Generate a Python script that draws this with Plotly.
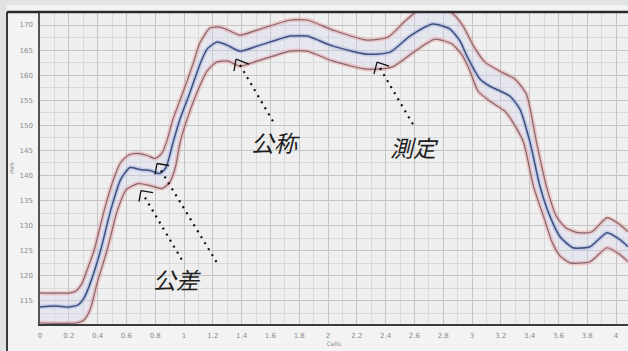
import plotly.graph_objects as go

# Nominal profile (blue centre line)
nom_x = [0.000, 0.104, 0.201, 0.264, 0.306, 0.350, 0.422, 0.492, 0.560, 0.625,
         0.694, 0.764, 0.833, 0.875, 0.924, 0.972, 1.042, 1.111, 1.160, 1.229,
         1.299, 1.389, 1.507, 1.618, 1.736, 1.854, 2.035, 2.271, 2.431, 2.569,
         2.729, 2.847, 2.917, 2.965, 3.056, 3.125, 3.264, 3.333, 3.403, 3.472,
         3.542, 3.611, 3.701, 3.819, 3.938, 4.028, 4.083]
nom_y = [113.8, 114.0, 113.8, 114.2, 115.6, 118.6, 125.2, 133.2, 139.2, 141.6,
         141.2, 141.0, 140.4, 141.6, 146.6, 151.2, 156.6, 162.2, 165.2, 166.6,
         166.0, 164.8, 165.8, 166.8, 167.8, 167.8, 165.8, 164.2, 164.6, 167.8,
         170.2, 169.2, 166.8, 163.8, 159.2, 157.8, 155.8, 153.2, 146.6, 137.8,
         131.8, 127.8, 125.6, 125.8, 128.6, 127.2, 125.8]

# Upper tolerance limit
up_x = [0.000, 0.208, 0.250, 0.290, 0.325, 0.377, 0.447, 0.515, 0.560, 0.615,
        0.680, 0.745, 0.799, 0.845, 0.880, 0.923, 0.993, 1.062, 1.110, 1.180,
        1.250, 1.306, 1.389, 1.507, 1.618, 1.736, 1.854, 2.035, 2.271, 2.417,
        2.535, 2.639, 2.743, 2.861, 2.938, 3.007, 3.090, 3.194, 3.299, 3.378,
        3.448, 3.517, 3.587, 3.650, 3.736, 3.833, 3.938, 4.028, 4.083]
up_y = [116.6, 116.6, 117.0, 118.4, 121.0, 125.2, 133.2, 139.6, 142.6, 144.1,
        144.4, 144.0, 143.4, 144.4, 146.8, 151.2, 156.6, 162.2, 166.4, 169.4,
        169.6, 169.0, 168.0, 169.0, 170.0, 171.0, 171.0, 169.0, 167.0, 167.6,
        170.8, 173.2, 173.6, 172.4, 169.8, 166.0, 162.6, 160.8, 159.2, 156.2,
        146.6, 137.8, 131.8, 129.6, 128.6, 128.8, 131.6, 130.2, 128.8]

# Lower tolerance limit
lo_x = [0.000, 0.250, 0.305, 0.350, 0.397, 0.467, 0.537, 0.600, 0.681, 0.764,
        0.847, 0.900, 0.940, 0.973, 1.021, 1.091, 1.160, 1.225, 1.306, 1.389,
        1.507, 1.618, 1.736, 1.854, 2.035, 2.271, 2.444, 2.604, 2.743, 2.861,
        2.931, 2.986, 3.042, 3.125, 3.229, 3.292, 3.358, 3.427, 3.497, 3.555,
        3.610, 3.680, 3.819, 3.938, 4.028, 4.083]
lo_y = [110.6, 110.6, 111.2, 113.4, 118.6, 125.2, 133.0, 137.2, 138.4, 138.0,
        137.4, 138.6, 141.6, 146.6, 151.2, 156.6, 160.8, 162.6, 162.8, 161.8,
        162.8, 163.8, 164.8, 164.8, 162.8, 161.2, 161.6, 164.8, 167.2, 166.2,
        164.0, 160.8, 156.8, 154.8, 152.8, 150.2, 146.6, 137.8, 131.8, 126.8,
        124.0, 122.6, 122.8, 125.6, 124.2, 122.8]

x_ticks = [round(0.2 * i, 1) for i in range(21)]
x_tick_text = ["0" if v == 0 else ("%g" % v) for v in x_ticks]
y_ticks = [115, 120, 125, 130, 135, 140, 145, 150, 155, 160, 165, 170]

X_RANGE = [0, 4.083]
Y_RANGE = [110.4, 172.6]

fig = go.Figure()

# light band between the tolerance limits
fig.add_trace(go.Scatter(
    x=up_x + lo_x[::-1], y=up_y + lo_y[::-1], mode="lines",
    line=dict(width=0, shape="spline", smoothing=0.6),
    fill="toself", fillcolor="rgba(214,214,240,0.35)",
    hoverinfo="skip", showlegend=False))

def halo_line(xs, ys, halo, core, hw, cw):
    fig.add_trace(go.Scatter(x=xs, y=ys, mode="lines",
                             line=dict(color=halo, width=hw, shape="spline", smoothing=0.6),
                             hoverinfo="skip", showlegend=False))
    fig.add_trace(go.Scatter(x=xs, y=ys, mode="lines",
                             line=dict(color=core, width=cw, shape="spline", smoothing=0.6),
                             showlegend=False))

halo_line(up_x, up_y, "rgba(240,150,150,0.45)", "#7d6a70", 4.5, 1.2)
halo_line(lo_x, lo_y, "rgba(240,150,150,0.45)", "#7d6a70", 4.5, 1.2)
halo_line(nom_x, nom_y, "rgba(150,170,225,0.45)", "#41507a", 4.5, 1.5)

shapes = []
# page background strips and frame
shapes.append(dict(type="rect", xref="paper", yref="paper", x0=-0.07, x1=-0.0561,
                   y0=-0.1, y1=1.05, fillcolor="#e2e4e4", line_width=0, layer="below"))
shapes.append(dict(type="rect", xref="paper", yref="paper", x0=-0.07, x1=1.01,
                   y0=1.0224, y1=1.05, fillcolor="#e2e4e4", line_width=0, layer="below"))
shapes.append(dict(type="line", xref="paper", yref="paper", x0=-0.0561, x1=-0.0561,
                   y0=-0.1, y1=1.0, line=dict(color="#3a3a3a", width=2)))
shapes.append(dict(type="line", xref="paper", yref="paper", x0=-0.0561, x1=1.01,
                   y0=1.0, y1=1.0, line=dict(color="#2a2a2a", width=2.5)))

# dotted leader lines with open arrow heads
leaders = [
    # tip, wing1, wing2, dots start, dots end
    ((1.361, 163.2), (1.347, 160.8), (1.451, 162.2), (1.389, 162.0), (1.618, 150.8)),
    ((2.340, 162.6), (2.319, 160.2), (2.424, 161.8), (2.361, 161.4), (2.590, 150.2)),
    ((0.8125, 142.4), (0.799, 140.2), (0.896, 142.0), (0.840, 141.0), (1.229, 122.6)),
    ((0.701, 137.0), (0.6875, 134.8), (0.785, 136.6), (0.729, 135.6), (0.993, 122.8)),
]
for tip, w1, w2, d0, d1 in leaders:
    for w in (w1, w2):
        shapes.append(dict(type="line", xref="x", yref="y", x0=tip[0], y0=tip[1],
                           x1=w[0], y1=w[1], line=dict(color="#111111", width=1.3)))
    shapes.append(dict(type="line", xref="x", yref="y", x0=d0[0], y0=d0[1],
                       x1=d1[0], y1=d1[1], line=dict(color="#111111", width=2.2, dash="2px,5px")))

label_font = dict(family="Noto Sans CJK JP", size=23, color="#1e1e1e", style="italic")
annotations = [
    dict(x=1.632, y=146.6, text="公称", showarrow=False, font=label_font),
    dict(x=2.597, y=145.7, text="測定", showarrow=False, font=label_font),
    dict(x=0.951, y=119.4, text="公差", showarrow=False, font=label_font),
]

tick_font = dict(family="DejaVu Sans", size=7, color="#8a8a8a")

fig.update_layout(
    width=628, height=351,
    margin=dict(l=40, r=0, t=12, b=27),
    paper_bgcolor="#f3f3f3",
    plot_bgcolor="#efefef",
    shapes=shapes,
    annotations=annotations,
    xaxis=dict(range=X_RANGE, tickvals=x_ticks, ticktext=x_tick_text,
               tickfont=tick_font, showgrid=True, gridcolor="#c4c4c4", gridwidth=1,
               minor=dict(dtick=0.1, showgrid=True, gridcolor="#dadada", gridwidth=1),
               zeroline=False, showline=True, linecolor="#3a3a3a", linewidth=2,
               ticks="", ticklabelstandoff=4,
               title=dict(text="Cells", font=dict(family="DejaVu Sans", size=6, color="#8a8a8a"),
                          standoff=2)),
    yaxis=dict(range=Y_RANGE, tickvals=y_ticks, tickfont=tick_font,
               showgrid=True, gridcolor="#c4c4c4", gridwidth=1,
               minor=dict(dtick=2.5, showgrid=True, gridcolor="#dadada", gridwidth=1),
               zeroline=False, showline=True, linecolor="#555555", linewidth=1.5,
               ticks="", ticklabelstandoff=4,
               title=dict(text="mm", font=dict(family="DejaVu Sans", size=6, color="#7a7a7a"),
                          standoff=4)),
)

fig.write_html("out.html")
